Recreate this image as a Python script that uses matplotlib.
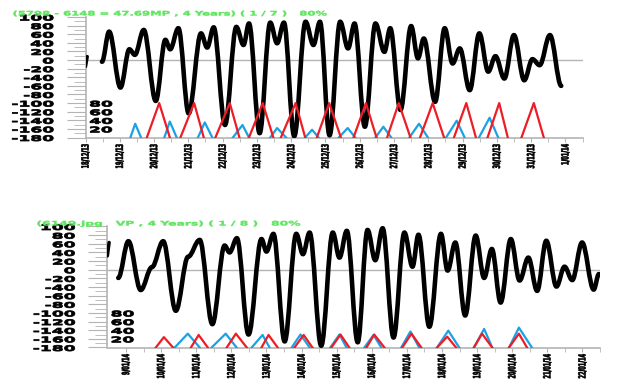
import numpy as np
import matplotlib
matplotlib.use('Agg')
import matplotlib.pyplot as plt
from matplotlib.path import Path
from matplotlib.patches import PathPatch
from matplotlib.patheffects import AbstractPathEffect
from matplotlib.transforms import Affine2D

plt.rcParams['axes.unicode_minus'] = False

# ---- page 1 : tide heights (high / low waters), day index, height
top_days = [0.48, 0.69, 1.02, 1.28, 1.44, 1.70, 2.05, 2.33, 2.47, 2.71, 3.01, 3.37, 3.55, 3.74,
            4.07, 4.40, 4.61, 4.77, 5.08, 5.39, 5.59, 5.79, 6.09, 6.42, 6.65, 6.84, 7.12, 7.43,
            7.66, 7.85, 8.15, 8.46, 8.72, 8.89, 9.19, 9.50, 9.70, 9.87, 10.20, 10.48, 10.71,
            10.92, 11.21, 11.49, 11.75, 11.96, 12.22, 12.50, 12.80, 13.04, 13.25, 13.55, 13.88]
top_levels = [-4, 66, -64, 25, 12, 70, -95, 47, 25, 74, -124, 62, 29, 76,
              -151, 77, 35, 85, -170, 87, 39, 87, -177, 89, 35, 89, -175, 89,
              27, 85, -155, 85, 19, 74, -116, 79, 4, 50, -97, 74, -8,
              27, -70, 62, -27, 9, -43, 58, -47, 2, -12, 58, -60]
top_stub_days = [0.05, 0.0]
top_stub_levels = [8, -15]

top_dates = ['18/12/13', '19/12/13', '20/12/13', '21/12/13', '22/12/13', '23/12/13',
             '24/12/13', '25/12/13', '26/12/13', '27/12/13', '28/12/13', '29/12/13',
             '30/12/13', '31/12/13', '1/01/14']

top_red_rise = [1.79, 2.77, 3.79, 4.77, 5.70, 6.75, 7.82, 8.80, 9.76, 10.75, 11.73, 12.72]
top_red_peak = [2.15, 3.17, 4.21, 5.17, 6.13, 7.11, 8.18, 9.14, 10.13, 11.11, 12.07, 13.08]
top_red_set = [2.46, 3.45, 4.49, 5.48, 6.41, 7.45, 8.49, 9.48, 10.46, 11.39, 12.32, 13.37]
top_red_height = [80, 80, 80, 80, 80, 80, 80, 80, 80, 80, 80, 80]

top_blue_rise = [1.31, 2.30, 3.28, 4.30, 5.39, 6.41, 7.39, 8.46, 9.45, 10.52, 11.48]
top_blue_peak = [1.45, 2.46, 3.48, 4.58, 5.59, 6.61, 7.65, 8.69, 9.73, 10.83, 11.79]
top_blue_set = [1.62, 2.66, 3.70, 4.77, 5.85, 6.80, 7.87, 8.92, 9.99, 11.06, 12.04]
top_blue_height = [32, 37, 35, 29, 22, 18, 22, 25, 32, 39, 46]

# ---- page 2
bot_days = [-0.22, 0.07, 0.42, 0.74, 1.06, 1.42, 1.77, 2.10, 2.46, 2.81, 2.95, 3.16, 3.49,
            3.86, 4.00, 4.20, 4.52, 4.85, 5.04, 5.23, 5.56, 5.89, 6.08, 6.29, 6.60, 6.88,
            7.10, 7.31, 7.62, 7.93, 8.16, 8.33, 8.64, 8.97, 9.16, 9.38, 9.66, 9.96, 10.20,
            10.42, 10.67, 10.96, 11.21, 11.46, 11.71, 11.97, 12.26, 12.49, 12.71, 12.99,
            13.32, 13.47]
bot_levels = [-19, 66, -47, 6, 66, -95, 30, 69, -126, 56, 40, 73, -150,
              71, 42, 83, -166, 83, 36, 86, -176, 86, 28, 90, -168, 92,
              22, 96, -157, 86, 7, 81, -132, 83, -2, 63, -106, 79, -19,
              48, -76, 71, -25, 28, -49, 67, -39, 7, -24, 63,
              -46, -10]
bot_stub_days = [-0.48, -0.53]
bot_stub_levels = [63, 32]

bot_dates = ['9/01/14', '10/01/14', '11/01/14', '12/01/14', '13/01/14', '14/01/14',
             '15/01/14', '16/01/14', '17/01/14', '18/01/14', '19/01/14', '20/01/14',
             '21/01/14', '22/01/14']

bot_red_rise = [0.85, 1.85, 2.87, 3.86, 4.80, 5.85, 6.85, 7.87, 8.86, 9.91, 10.91]
bot_red_peak = [1.08, 2.07, 3.13, 4.06, 5.06, 6.11, 7.07, 8.13, 9.15, 10.14, 11.19]
bot_red_set = [1.34, 2.33, 3.44, 4.32, 5.31, 6.36, 7.36, 8.41, 9.40, 10.43, 11.42]
bot_red_height = [24, 29, 32, 29, 29, 30, 30, 32, 25, 32, 32]

bot_blue_rise = [1.39, 2.44, 3.58, 4.72, 5.82, 6.79, 7.84, 8.86, 9.91, 10.91]
bot_blue_peak = [1.76, 2.84, 3.89, 4.97, 6.08, 7.05, 8.10, 9.18, 10.20, 11.19]
bot_blue_set = [2.10, 3.15, 4.09, 5.23, 6.28, 7.27, 8.35, 9.49, 10.43, 11.56]
bot_blue_height = [32, 32, 29, 30, 30, 29, 37, 39, 43, 46]

top_title = '(5798 - 6148 = 47.69MP , 4 Years) ( 1 / 7 )   80%'
bot_title = '(6149.jpg   VP , 4 Years) ( 1 / 8 )   80%'

RED = '#ee1c25'
BLUE = '#1ba1e6'
GREEN = '#5ce65c'
GREY = '#b4b4b4'


class Stretch(AbstractPathEffect):
	# the page is flattened, glyphs come out wide and short: widen them
	def __init__(self, sx=2.2, anchor='center', lw=0.0):
		super().__init__()
		self.sx = sx
		self.anchor = anchor
		self.lw = lw

	def draw_path(self, renderer, gc, tpath, affine, rgbFace=None):
		bb = tpath.get_extents(affine)
		if self.anchor == 'left':
			x0 = bb.x0
		elif self.anchor == 'right':
			x0 = bb.x1
		else:
			x0 = (bb.x0 + bb.x1) / 2
		st = Affine2D().translate(-x0, 0).scale(self.sx, 1).translate(x0, 0)
		gc0 = renderer.new_gc()
		gc0.copy_properties(gc)
		if self.lw > 0:
			gc0.set_linewidth(self.lw)
			gc0.set_foreground(rgbFace)
		renderer.draw_path(gc0, tpath, affine + st, rgbFace)
		gc0.restore()


def tide_path(days, levels):
	# smooth curve through high and low waters (flat at each turn)
	verts = [(days[0], levels[0])]
	codes = [Path.MOVETO]
	for i in range(1, len(days)):
		dx = days[i] - days[i - 1]
		verts += [(days[i - 1] + 0.36 * dx, levels[i - 1]),
				  (days[i] - 0.36 * dx, levels[i]),
				  (days[i], levels[i])]
		codes += [Path.CURVE4] * 3
	return Path(verts, codes)


def triangles(rise, peak, sett, height):
	xs, ys = [], []
	for r, p, s, h in zip(rise, peak, sett, height):
		xs += [r, p, s, np.nan]
		ys += [0, h, 0, np.nan]
	return xs, ys


def draw_panel(fig, rect, days, levels, stub, dates, xlim, red, blue, title, title_xy, title_sx):
	ax = fig.add_axes(rect)
	ax.set_xlim(*xlim)
	ax.set_ylim(-180, 100)

	ax.add_patch(PathPatch(tide_path(days, levels), facecolor='none', edgecolor='black',
						   lw=3.3, capstyle='round', joinstyle='round', zorder=3))
	ax.plot(stub[0], stub[1], color='black', lw=2.5, solid_capstyle='round', zorder=3)
	ax.axhline(0, color=GREY, lw=1, zorder=1)

	for s in ['top', 'right']:
		ax.spines[s].set_visible(False)
	for s in ['left', 'bottom']:
		ax.spines[s].set_color(GREY)
		ax.spines[s].set_linewidth(1.2)

	ax.set_yticks(np.arange(-180, 101, 20))
	ax.set_yticks(np.arange(-170, 100, 20), minor=True)
	ax.tick_params(axis='y', which='major', length=14, color=GREY, pad=9, labelsize=5.6)
	ax.tick_params(axis='y', which='minor', length=9, color=GREY)
	for lbl in ax.get_yticklabels():
		lbl.set_fontweight('bold')
		lbl.set_path_effects([Stretch(2.2, 'right', 0.55)])

	ax.set_xticks(range(len(dates)), dates, rotation=90)
	ax.set_xticks(np.arange(0.5, len(dates), 1), minor=True)
	ax.tick_params(axis='x', which='both', length=3, color=GREY, pad=1.5, labelsize=3.6)
	for lbl in ax.get_xticklabels():
		lbl.set_fontweight('bold')
		lbl.set_path_effects([Stretch(2.0, 'center', 0.45)])

	# sun / moon style triangles on a second scale sitting at the bottom
	ax2 = ax.twinx()
	ax2.set_ylim(0, 280)
	for s in ax2.spines.values():
		s.set_visible(False)
	rx, ry = triangles(*red)
	bx, by = triangles(*blue)
	ax2.plot(bx, by, color=BLUE, lw=1.6)
	ax2.plot(rx, ry, color=RED, lw=1.6)
	ax2.yaxis.set_ticks_position('left')
	ax2.set_yticks([20, 40, 60, 80])
	ax2.tick_params(axis='y', direction='in', length=0, pad=-3, labelsize=5.6)
	for lbl in ax2.get_yticklabels():
		lbl.set_fontweight('bold')
		lbl.set_horizontalalignment('left')
		lbl.set_path_effects([Stretch(2.2, 'left', 0.55)])

	t = fig.text(title_xy[0], title_xy[1], title, color=GREEN, fontsize=4.5,
				 fontweight='bold', va='center', ha='left')
	t.set_path_effects([Stretch(title_sx, 'left', 0.3)])
	return ax


if __name__ == "__main__":
	W, H = 621, 384
	fig = plt.figure(figsize=(W / 100, H / 100), dpi=100)

	draw_panel(fig, [85.5 / W, 1 - 137.5 / H, 497 / W, 120.5 / H],
			   top_days, top_levels, (top_stub_days, top_stub_levels), top_dates, (0, 14.0),
			   (top_red_rise, top_red_peak, top_red_set, top_red_height),
			   (top_blue_rise, top_blue_peak, top_blue_set, top_blue_height),
			   top_title, (13 / W, 1 - 14 / H), 1.86)

	draw_panel(fig, [107 / W, 1 - 347.5 / H, 493 / W, 121 / H],
			   bot_days, bot_levels, (bot_stub_days, bot_stub_levels), bot_dates, (-0.54, 13.47),
			   (bot_red_rise, bot_red_peak, bot_red_set, bot_red_height),
			   (bot_blue_rise, bot_blue_peak, bot_blue_set, bot_blue_height),
			   bot_title, (37 / W, 1 - 224 / H), 1.97)

	fig.savefig('out.png', dpi=100)
	plt.close()
